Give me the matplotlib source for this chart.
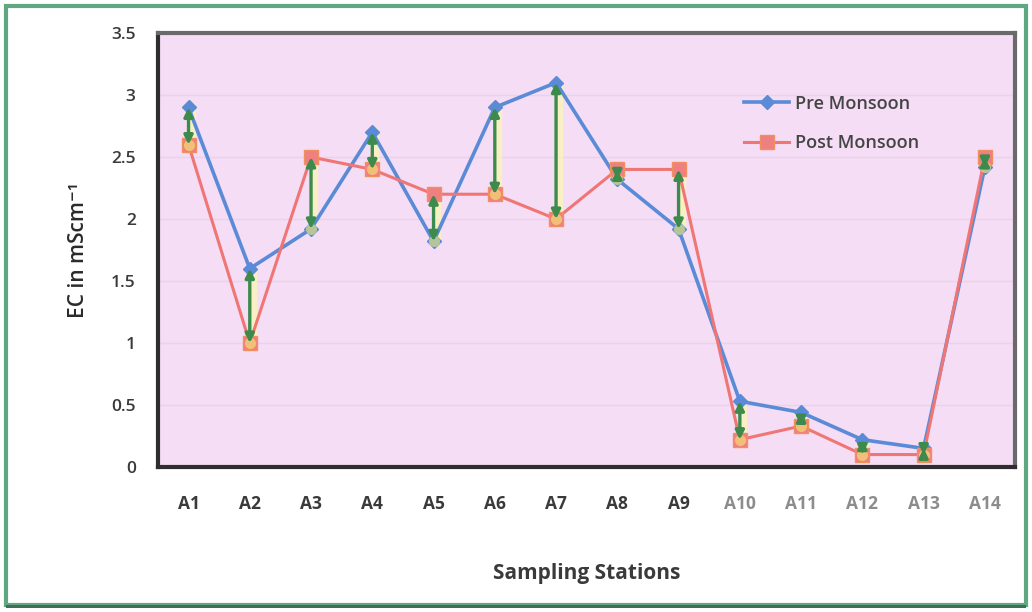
import numpy as np
import matplotlib.pyplot as plt
from matplotlib.patches import Rectangle

stations = ["A1", "A2", "A3", "A4", "A5", "A6", "A7",
            "A8", "A9", "A10", "A11", "A12", "A13", "A14"]
pre_monsoon = [2.9, 1.6, 1.92, 2.7, 1.82, 2.9, 3.1,
               2.32, 1.92, 0.53, 0.44, 0.22, 0.15, 2.42]
post_monsoon = [2.6, 1.0, 2.5, 2.4, 2.2, 2.2, 2.0,
                2.4, 2.4, 0.22, 0.33, 0.1, 0.1, 2.5]

plt.rcParams['font.family'] = ['Open Sans', 'DejaVu Sans']

fig = plt.figure(figsize=(10.32, 6.12), dpi=100)
fig.patch.set_facecolor("white")

# green outer frame round the whole chart
fig.patches.append(Rectangle((0.006, 0.012), 0.988, 0.978, transform=fig.transFigure,
                             fill=False, edgecolor="#5fa882", linewidth=3))
fig.patches.append(Rectangle((0.006, 0.006), 0.988, 0.006, transform=fig.transFigure,
                             facecolor="#3f6f5a", edgecolor="none"))

ax = fig.add_axes([0.153, 0.237, 0.831, 0.709])
ax.set_facecolor("#f5ddf5")

x = np.arange(len(stations))

# gap arrows between the two seasons
for xi, a, b in zip(x, pre_monsoon, post_monsoon):
    lo, hi = min(a, b), max(a, b)
    ax.plot([xi + 0.05, xi + 0.05], [lo, hi], color="#f9f5b8", lw=6,
            alpha=0.8, zorder=2, solid_capstyle="round")
    ax.annotate("", xy=(xi, lo), xytext=(xi, hi),
                arrowprops=dict(arrowstyle="<|-|>", color="#3c8a4c", lw=2.4,
                                mutation_scale=13, shrinkA=0, shrinkB=0),
                zorder=5)

ax.plot(x, pre_monsoon, color="#5b8ad6", lw=2.6, marker="D", ms=7,
        markerfacecolor="#5b8ad6", markeredgecolor="#5b8ad6",
        label="Pre Monsoon", zorder=3)
ax.plot(x, post_monsoon, color="#f07575", lw=2.2, marker="s", ms=10,
        markerfacecolor="#f08080", markeredgecolor="#f09060",
        label="Post Monsoon", zorder=3)

# yellow glow on the lower end of each arrow
low_ends = [min(a, b) for a, b in zip(pre_monsoon, post_monsoon)]
ax.plot(x, low_ends, linestyle="none", marker="o", ms=8,
        markerfacecolor="#f6ea70", markeredgecolor="none", alpha=0.6, zorder=4)

ax.set_xlim(-0.5, len(stations) - 0.5)
ax.set_ylim(0, 3.5)
ax.set_yticks(np.arange(0, 3.51, 0.5))
ax.set_yticklabels(["0", "0.5", "1", "1.5", "2", "2.5", "3", "3.5"])
ax.set_xticks(x)
ax.set_xticklabels(stations)
ax.grid(axis="y", color="#ebd2eb", lw=1.0)
ax.set_axisbelow(True)

ax.tick_params(axis="both", length=0, labelsize=12.5, labelcolor="#3a3a3a")
ax.tick_params(axis="x", pad=20)
ax.tick_params(axis="y", pad=16)
for lbl in ax.get_xticklabels():
    lbl.set_fontweight("bold")
    if lbl.get_text() in ("A10", "A11", "A12", "A13", "A14"):
        lbl.set_color("#8c8c8c")
for lbl in ax.get_yticklabels():
    lbl.set_fontweight("semibold")

for side in ["left", "bottom"]:
    ax.spines[side].set_color("#2e2e2e")
    ax.spines[side].set_linewidth(3)
for side in ["top", "right"]:
    ax.spines[side].set_color("#6a6a6a")
    ax.spines[side].set_linewidth(3)

ax.set_ylabel("EC in mScm\u207b\u00b9", fontsize=15, fontweight="semibold",
              color="#2a2a2a", labelpad=16)
ax.set_xlabel("Sampling Stations", fontsize=15, fontweight="bold",
              color="#3a3a3a", labelpad=36)

leg = ax.legend(loc="upper left", bbox_to_anchor=(0.675, 0.875), frameon=False,
                fontsize=13, handlelength=2.5, handletextpad=0.3,
                labelspacing=1.2, borderaxespad=0)
for t in leg.get_texts():
    t.set_color("#444444")
    t.set_fontweight("semibold")

fig.savefig("out.png", dpi=100)
